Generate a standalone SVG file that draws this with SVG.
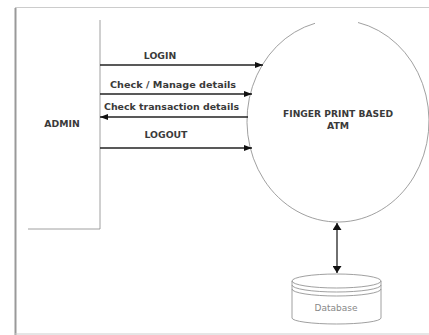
<svg xmlns="http://www.w3.org/2000/svg" width="429" height="335" viewBox="0 0 429 335">
<defs>
<style>
.lbl{font-family:"DejaVu Sans",Verdana,sans-serif;font-weight:bold;font-size:9.3px;fill:#3a3a3a}
.flow{stroke:#222;stroke-width:1.3;fill:none}
.thin{stroke:#888;stroke-width:0.8;fill:none}
</style>
<marker id="ah" viewBox="0 0 10 10" refX="10" refY="5" markerWidth="8" markerHeight="6" markerUnits="userSpaceOnUse" orient="auto-start-reverse" preserveAspectRatio="none">
<path d="M0,0 L10,5 L0,10 z" fill="#111"/>
</marker>
<marker id="ah2" viewBox="0 0 10 10" refX="10" refY="5" markerWidth="7" markerHeight="9" markerUnits="userSpaceOnUse" orient="auto-start-reverse" preserveAspectRatio="none">
<path d="M0,0 L10,5 L0,10 z" fill="#111"/>
</marker>
</defs>
<rect width="429" height="335" fill="#fff"/>
<g id="frame">
<line x1="15.5" y1="8" x2="15.5" y2="335" stroke="#999" stroke-width="2"/>
<line x1="15" y1="7.5" x2="429" y2="7.5" stroke="#ccc" stroke-width="1"/>
<line x1="15" y1="334" x2="429" y2="334" stroke="#ccc" stroke-width="1"/>
</g>
<g id="admin">
<path class="thin" d="M100,20 V229 H28"/>
<text class="lbl" x="62" y="127" text-anchor="middle">ADMIN</text>
</g>
<g id="atm">
<path class="thin" d="M358,22.5 A91,101 0 1,1 315,23.3"/>
<text class="lbl" x="338" y="117" text-anchor="middle" textLength="110" lengthAdjust="spacingAndGlyphs">FINGER PRINT BASED</text>
<text class="lbl" x="338" y="129" text-anchor="middle">ATM</text>
</g>
<g id="database">
<path class="thin" d="M292,281 V318 A44.5,6 0 0,0 381,318 V281"/>
<ellipse class="thin" cx="336.5" cy="281" rx="44.5" ry="7"/>
<path class="thin" d="M292,285 A44.5,7 0 0,0 381,285"/>
<path class="thin" d="M292,289 A44.5,7 0 0,0 381,289"/>
<text x="336" y="311" text-anchor="middle" font-family="'DejaVu Sans',sans-serif" font-size="9" fill="#888">Database</text>
</g>
<g id="connectors">
<line class="flow" x1="100" y1="65" x2="263" y2="65" marker-end="url(#ah)"/>
<text class="lbl" x="160" y="59" text-anchor="middle">LOGIN</text>
<line class="flow" x1="100" y1="94" x2="252" y2="94" marker-end="url(#ah)"/>
<text class="lbl" x="173" y="88" text-anchor="middle" textLength="126" lengthAdjust="spacingAndGlyphs">Check / Manage details</text>
<line class="flow" x1="248" y1="117" x2="100" y2="117" marker-end="url(#ah)"/>
<text class="lbl" x="171.5" y="110" text-anchor="middle" textLength="135" lengthAdjust="spacingAndGlyphs">Check transaction details</text>
<line class="flow" x1="100" y1="148" x2="252" y2="148" marker-end="url(#ah)"/>
<text class="lbl" x="166" y="138" text-anchor="middle">LOGOUT</text>
<line class="flow" x1="337" y1="223" x2="337" y2="273" marker-start="url(#ah2)" marker-end="url(#ah2)"/>
</g>
</svg>
